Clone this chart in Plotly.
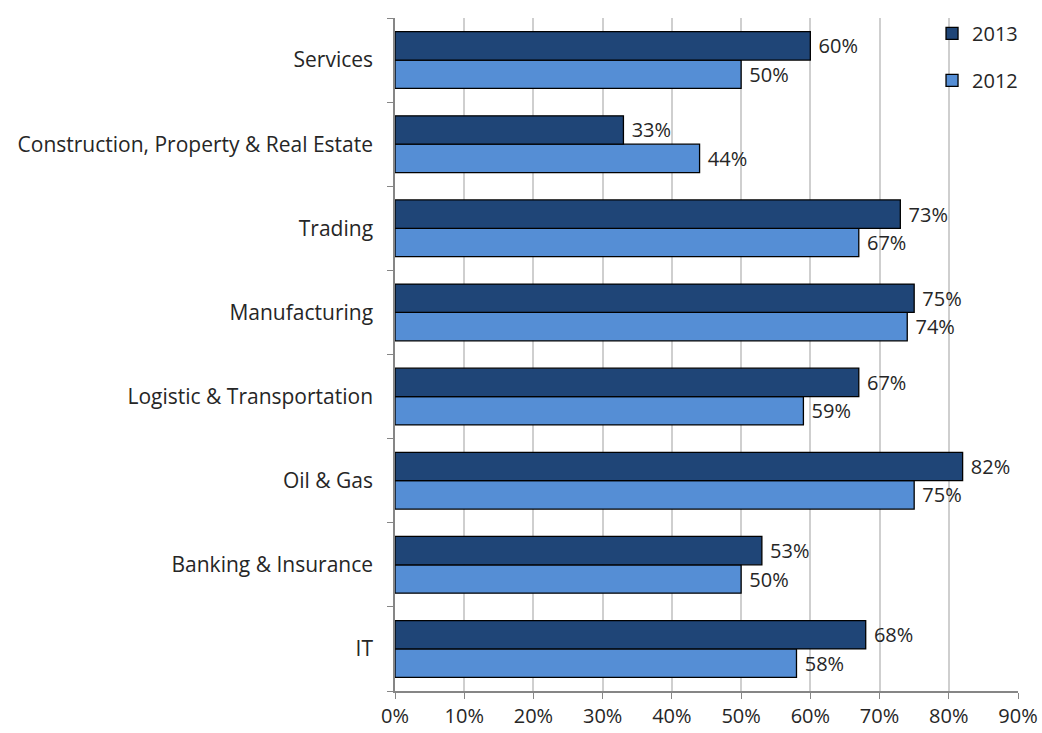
import plotly.graph_objects as go

categories = ["IT", "Banking & Insurance", "Oil & Gas", "Logistic & Transportation",
              "Manufacturing", "Trading", "Construction, Property & Real Estate", "Services"]
values_2013 = [0.68, 0.53, 0.82, 0.67, 0.75, 0.73, 0.33, 0.60]
values_2012 = [0.58, 0.50, 0.75, 0.59, 0.74, 0.67, 0.44, 0.50]
x_ticks = [0, 0.1, 0.2, 0.3, 0.4, 0.5, 0.6, 0.7, 0.8, 0.9]

FONT = "Open Sans, Noto Sans, sans-serif"
TXT = "#262626"

fig = go.Figure()
fig.add_trace(go.Bar(
    y=categories, x=values_2012, name="2012", orientation="h", legendgroup="a", legendrank=2,
    marker=dict(color="#558ED5", line=dict(color="#000000", width=1.3)),
    text=[f" {round(v*100)}%" for v in values_2012], textposition="outside",
    textfont=dict(color=TXT, size=20), cliponaxis=False,
))
fig.add_trace(go.Bar(
    y=categories, x=values_2013, name="2013", orientation="h", legendgroup="b", legendrank=1,
    marker=dict(color="#1F4577", line=dict(color="#000000", width=1.3)),
    text=[f" {round(v*100)}%" for v in values_2013], textposition="outside",
    textfont=dict(color=TXT, size=20), cliponaxis=False,
))

fig.update_layout(
    width=1042, height=733,
    margin=dict(l=395, r=24, t=18, b=42, autoexpand=False),
    barmode="group", bargap=0.325, bargroupgap=0,
    paper_bgcolor="white", plot_bgcolor="white",
    font=dict(family=FONT, size=20, color=TXT),
    showlegend=True,
    legend=dict(x=0.862, y=1.006, xanchor="left", yanchor="top", traceorder="grouped",
                bgcolor="rgba(0,0,0,0)", font=dict(size=20), tracegroupgap=18,
                itemwidth=30),
    xaxis=dict(range=[0, 0.9], tickvals=x_ticks, tickformat=".0%",
               showgrid=True, gridcolor="#CFCFCF", gridwidth=2,
               showline=True, linecolor="#868686", linewidth=1.5,
               ticks="outside", ticklen=6, tickcolor="#868686", zeroline=False,
               tickfont=dict(size=20), automargin=False),
    yaxis=dict(type="category", categoryorder="array", categoryarray=categories,
               showline=True, linecolor="#868686", linewidth=1.5,
               ticks="outside", ticklen=6, tickcolor="#868686", tickson="boundaries",
               showgrid=False, ticklabelstandoff=16, tickfont=dict(size=21),
               automargin=False),
)

fig.write_html("out.html", config={"displayModeBar": False},
               post_script="document.body.style.margin='0';document.body.style.overflow='hidden';")
